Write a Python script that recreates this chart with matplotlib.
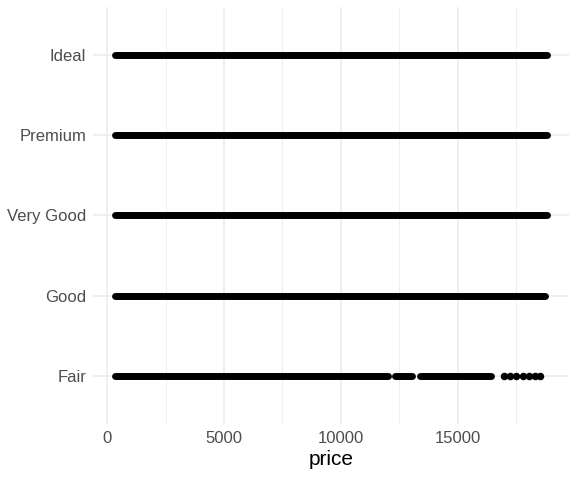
import matplotlib
matplotlib.use('Agg')
import matplotlib.pyplot as plt

plt.rcParams['font.family'] = ['Liberation Sans', 'DejaVu Sans']

# diamonds: price by cut
cuts = ["Fair", "Good", "Very Good", "Premium", "Ideal"]
# price ranges that are packed solid with points
dense = {
    "Fair": [(337, 11990), (12300, 13030), (13370, 16410)],
    "Good": [(327, 16830), (16900, 18720)],
    "Very Good": [(336, 18800)],
    "Premium": [(326, 18823)],
    "Ideal": [(326, 18806)],
}
# single points standing apart
sparse = {
    "Fair": [16966, 17222, 17479, 17800, 18056, 18291, 18504],
    "Good": [],
    "Very Good": [],
    "Premium": [],
    "Ideal": [],
}
xticks = [0, 5000, 10000, 15000]
xminor = [2500, 7500, 12500, 17500]

fig = plt.figure(figsize=(5.76, 4.8), dpi=100)
ax = fig.add_axes([0.1615, 0.1167, 0.8263, 0.8687])

pt = 5.0  # point diameter in points
for i, c in enumerate(cuts):
    for a, b in dense[c]:
        ax.plot([a, b], [i, i], color='black', lw=pt, solid_capstyle='round', zorder=3)
    if sparse[c]:
        ax.plot(sparse[c], [i] * len(sparse[c]), 'o', color='black', ms=pt + 0.4, mew=0, zorder=3)

lo, hi = 326, 18823
pad = (hi - lo) * 0.05
ax.set_xlim(lo - pad, hi + pad)
ax.set_ylim(-0.6, len(cuts) - 0.4)
ax.set_xticks(xticks)
ax.set_xticks(xminor, minor=True)
ax.set_yticks(range(len(cuts)))
ax.set_yticklabels(cuts)

ax.grid(True, which='major', color='#EBEBEB', lw=1.1, zorder=0)
ax.grid(True, which='minor', axis='x', color='#EBEBEB', lw=0.55, zorder=0)
ax.set_axisbelow(True)
for s in ax.spines.values():
    s.set_visible(False)
ax.tick_params(which='both', length=0, labelsize=12, labelcolor='#4D4D4D', pad=5)
ax.set_xlabel('price', fontsize=15, color='black', labelpad=3)

fig.savefig('out.png', dpi=100)
